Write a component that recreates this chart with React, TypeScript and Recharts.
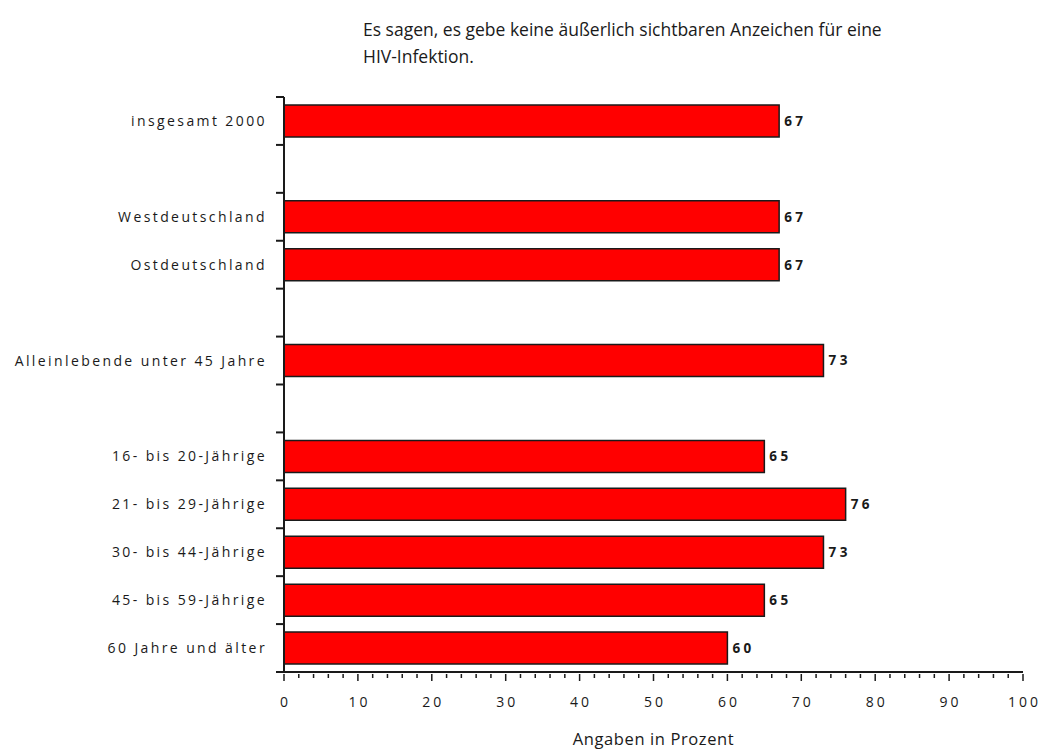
import { BarChart, Bar, XAxis, YAxis, LabelList } from 'recharts'

const categories = [
  'insgesamt 2000',
  '',
  'Westdeutschland',
  'Ostdeutschland',
  '',
  'Alleinlebende unter 45 Jahre',
  '',
  '16- bis 20-Jährige',
  '21- bis 29-Jährige',
  '30- bis 44-Jährige',
  '45- bis 59-Jährige',
  '60 Jahre und älter',
]
const values: (number | null)[] = [67, null, 67, 67, null, 73, null, 65, 76, 73, 65, 60]
const xTicks = [
  0, 2, 4, 6, 8, 10, 12, 14, 16, 18, 20, 22, 24, 26, 28, 30, 32, 34, 36, 38, 40,
  42, 44, 46, 48, 50, 52, 54, 56, 58, 60, 62, 64, 66, 68, 70, 72, 74, 76, 78, 80,
  82, 84, 86, 88, 90, 92, 94, 96, 98, 100,
]

const W = 1042
const H = 750
const M = { top: 97, right: 19, bottom: 0, left: 0 }
const AXIS_W = 284
const AXIS_H = 78
const HALF_BAND = (H - M.top - AXIS_H) / categories.length / 2
const FONT = '"Open Sans", sans-serif'
const INK = '#1a1a1a'

const data = categories.map((name, i) => ({ slot: i, name, value: values[i] }))

const YTick = ({ x, y, payload }: any) => {
  const i = payload.value as number
  const last = i === categories.length - 1
  return (
    <g>
      <line x1={x - 8} x2={x} y1={y - HALF_BAND} y2={y - HALF_BAND} stroke={INK} strokeWidth={2} />
      {last && <line x1={x - 8} x2={x} y1={y + HALF_BAND} y2={y + HALF_BAND} stroke={INK} strokeWidth={2} />}
      <text x={x - 17} y={y} dy={5} textAnchor="end" fontSize={14} letterSpacing={2.4}
        fontFamily={FONT} fill={INK}>
        {categories[i]}
      </text>
    </g>
  )
}

const XTick = ({ x, y, payload }: any) => {
  const v = payload.value as number
  const major = v % 10 === 0
  return (
    <g>
      <line x1={x} x2={x} y1={y} y2={y + (major ? 7 : 4)} stroke={INK} strokeWidth={1.5} />
      {major && (
        <text x={x + 1.5} y={y + 33} textAnchor="middle" fontSize={14} letterSpacing={3}
          fontFamily={FONT} fill={INK}>
          {v}
        </text>
      )}
    </g>
  )
}

export default function App() {
  return (
    <div style={{ position: 'fixed', left: 0, top: 0, width: W, height: H, background: '#fff' }}>
      <div style={{
        position: 'absolute', left: 363, top: 16, fontFamily: FONT, fontSize: 17.5,
        lineHeight: '27px', color: INK,
      }}>
        Es sagen, es gebe keine äußerlich sichtbaren Anzeichen für eine<br />HIV-Infektion.
      </div>
      <BarChart width={W} height={H} data={data} layout="vertical" margin={M}>
        <XAxis type="number" dataKey="value" domain={[0, 100]} ticks={xTicks} interval={0}
          height={AXIS_H} tick={<XTick />} tickLine={false} tickSize={0}
          axisLine={{ stroke: INK, strokeWidth: 2 }}
          label={{ value: 'Angaben in Prozent', position: 'insideBottom', offset: 5,
            style: { fontFamily: FONT, fontSize: 16.5, fill: INK, letterSpacing: 0.6 } }} />
        <XAxis xAxisId="top" orientation="top" type="number" domain={[0, 100]} tick={false}
          tickLine={false} height={0} axisLine={{ stroke: INK, strokeWidth: 1.5 }} />
        <YAxis type="category" dataKey="slot" width={AXIS_W} interval={0} tick={<YTick />}
          tickLine={false} tickSize={0} tickMargin={0} axisLine={{ stroke: INK, strokeWidth: 2 }} />
        <YAxis yAxisId="right" orientation="right" type="category" dataKey="slot" width={0}
          tick={false} tickLine={false} axisLine={{ stroke: INK, strokeWidth: 1.5 }} />
        <Bar dataKey="value" barSize={32} fill="#ff0000" stroke={INK} strokeWidth={1.5}
          isAnimationActive={false}>
          <LabelList dataKey="value" position="right" offset={5}
            style={{ fontFamily: FONT, fontSize: 13.5, fontWeight: 700, fill: INK, letterSpacing: 3.5 }} />
        </Bar>
      </BarChart>
    </div>
  )
}
